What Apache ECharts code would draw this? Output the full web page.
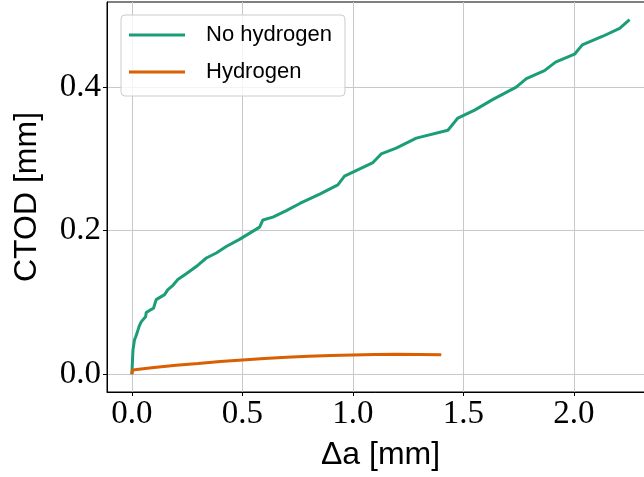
<!DOCTYPE html>
<html>
<head>
<meta charset="utf-8">
<script src="https://cdn.jsdelivr.net/npm/echarts@6/dist/echarts.min.js"></script>
<style>html,body{margin:0;padding:0;background:#fff}#chart{width:644px;height:477px}</style>
</head>
<body>
<div id="chart"></div>
<script>
// Data
const seriesNames = ['No hydrogen', 'Hydrogen'];
const noHydrogenX = [0, 0.001, 0.005, 0.012, 0.017, 0.023, 0.032, 0.042, 0.062, 0.065, 0.080, 0.098, 0.110, 0.148, 0.163, 0.186, 0.208, 0.246, 0.299, 0.337, 0.382, 0.427, 0.487, 0.578, 0.593, 0.638, 0.699, 0.760, 0.850, 0.932, 0.962, 1.091, 1.128, 1.196, 1.287, 1.430, 1.475, 1.551, 1.634, 1.739, 1.785, 1.867, 1.917, 2.003, 2.038, 2.131, 2.207, 2.252];
const noHydrogenY = [0, 0.001, 0.034, 0.048, 0.052, 0.057, 0.066, 0.073, 0.080, 0.086, 0.089, 0.092, 0.104, 0.111, 0.118, 0.124, 0.132, 0.140, 0.152, 0.162, 0.169, 0.178, 0.188, 0.205, 0.215, 0.219, 0.228, 0.238, 0.251, 0.264, 0.276, 0.295, 0.307, 0.315, 0.329, 0.340, 0.357, 0.368, 0.383, 0.400, 0.412, 0.423, 0.435, 0.446, 0.459, 0.471, 0.482, 0.494];
const hydrogenX = [0, 0.003, 0.1, 0.2, 0.3, 0.4, 0.5, 0.6, 0.7, 0.8, 0.9, 1.0, 1.1, 1.2, 1.3, 1.4];
const hydrogenY = [0, 0.006, 0.0095, 0.0125, 0.015, 0.0178, 0.020, 0.022, 0.0237, 0.025, 0.026, 0.027, 0.0275, 0.0278, 0.0277, 0.0272];
const xTicks = [0, 0.5, 1.0, 1.5, 2.0];
const yTicks = [0, 0.2, 0.4];
const xName = 'Δa [mm]';
const yName = 'CTOD [mm]';

const zip = (xs, ys) => xs.map((x, i) => [x, ys[i]]);
const chart = echarts.init(document.getElementById('chart'), null, {renderer: 'canvas'});
const tickFont = {fontFamily: 'Liberation Serif', fontSize: 33, color: '#000'};
const nameFont = {fontFamily: 'Liberation Sans', fontSize: 32, color: '#000'};
chart.setOption({
  animation: false,
  backgroundColor: '#fff',
  grid: {left: 107, right: -10, top: 2, bottom: 85, show: true, borderColor: '#000', borderWidth: 1, backgroundColor: 'transparent', containLabel: false, outerBoundsMode: 'none'},
  legend: {
    orient: 'vertical', left: 121, top: 15,
    data: seriesNames,
    icon: 'rect', itemWidth: 56, itemHeight: 3, itemGap: 7,
    padding: [5, 13, 9, 8],
    backgroundColor: 'rgba(255,255,255,0.8)', borderColor: '#cccccc', borderWidth: 1, borderRadius: 4,
    textStyle: {fontFamily: 'Liberation Sans', fontSize: 22, color: '#000', lineHeight: 30, padding: [0, 0, 0, 16]}
  },
  xAxis: {
    type: 'value', min: -0.1125, max: 2.3625,
    name: xName, nameLocation: 'middle', nameGap: 47, nameTextStyle: nameFont,
    axisLine: {show: true, onZero: false, lineStyle: {color: '#000', width: 1}},
    axisTick: {show: true, length: 4, customValues: xTicks, lineStyle: {color: '#000'}},
    axisLabel: {show: true, customValues: xTicks, margin: 6, formatter: v => v.toFixed(1), ...tickFont},
    splitLine: {show: true, lineStyle: {color: '#c8c8c8', width: 1}}
  },
  yAxis: {
    type: 'value', min: -0.0247, max: 0.5187,
    name: yName, nameLocation: 'middle', nameGap: 64, nameRotate: 90, nameTextStyle: nameFont,
    axisLine: {show: true, onZero: false, lineStyle: {color: '#000', width: 1}},
    axisTick: {show: true, length: 4, customValues: yTicks, lineStyle: {color: '#000'}},
    axisLabel: {show: true, customValues: yTicks, margin: 6, formatter: v => v.toFixed(1), ...tickFont},
    splitLine: {show: true, lineStyle: {color: '#c8c8c8', width: 1}}
  },
  series: [
    {name: seriesNames[0], type: 'line', data: zip(noHydrogenX, noHydrogenY), symbol: 'none', showSymbol: false, color: '#1b9e77', lineStyle: {width: 3, color: '#1b9e77'}, z: 3},
    {name: seriesNames[1], type: 'line', data: zip(hydrogenX, hydrogenY), symbol: 'none', showSymbol: false, color: '#d95f02', lineStyle: {width: 3, color: '#d95f02'}, z: 4}
  ]
});
</script>
</body>
</html>
